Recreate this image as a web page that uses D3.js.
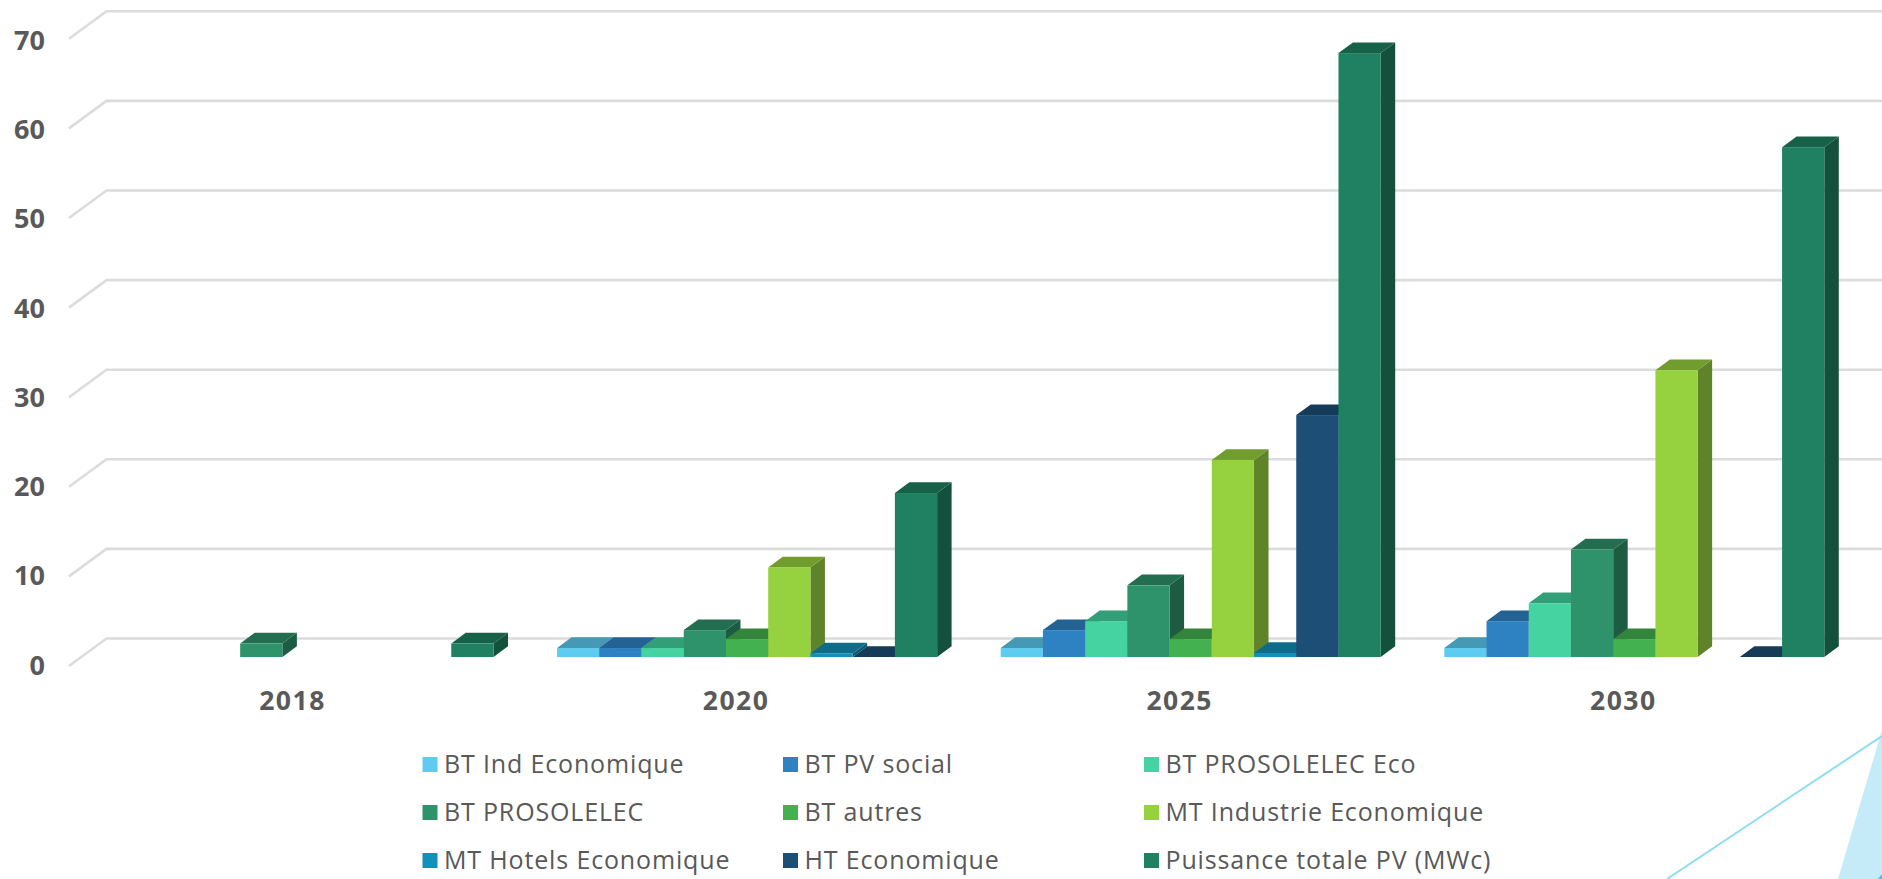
<!DOCTYPE html>
<html><head><meta charset="utf-8">
<script src="https://cdn.jsdelivr.net/npm/d3@7/dist/d3.min.js"></script>
<style>html,body{margin:0;padding:0;background:#fff;overflow:hidden}svg{display:block}text{font-family:"Open Sans",sans-serif;fill:#595959}</style>
</head><body><svg id="c" width="1882" height="879"></svg>
<script>
const years = ["2018", "2020", "2025", "2030"];
const series = ["BT Ind Economique","BT PV social","BT PROSOLELEC Eco","BT PROSOLELEC","BT autres","MT Industrie Economique","MT Hotels Economique","HT Economique","Puissance totale PV (MWc)"];
const colors = ["#5DCCF0","#2E82C2","#44D3A1","#2E926B","#43B14F","#96D13F","#1290B8","#1D4E76","#1F8161"];
const v2018 = [null,null,null,1.5,null,null,null,null,1.5];
const v2020 = [1,1,1,3,2,10,0.4,0,18.3];
const v2025 = [1,3,4,8,2,22,0.45,27,67.4];
const v2030 = [1,4,6,12,2,32,null,0,56.9];
const yearValues = [v2018,v2020,v2025,v2030];
const yTicks = [0,10,20,30,40,50,60,70];

const svg = d3.select("#c");
const baseY = 657, unit = 8.96;
const y = d3.scaleLinear().domain([0,70]).range([baseY, baseY-70*unit]);
const yLabel = d3.scaleLinear().domain([0,70]).range([665,40]);
const x0 = d3.scaleBand().domain(years).range([81.7,1856.1]);
const x1 = d3.scaleBand().domain(series).range([31.8,411.8]);
const barW = x1.bandwidth();
const dx = 14.5, dy = 10.7;          // bar depth
const wallDx = 37.5, wallFront = 9, wallBack = -18.5; // wall offsets from bar baseline
const wallX = 69;

// gridlines
const grid = svg.append("g").attr("fill","none").attr("stroke","#DCDCDC").attr("stroke-width",2.6);
grid.selectAll("path").data(yTicks).join("path")
  .attr("d",t=>`M${wallX},${y(t)+wallFront}L${wallX+wallDx},${y(t)+wallBack}H1882`);

// y labels
svg.append("g").selectAll("text").data(yTicks).join("text")
  .attr("x",45).attr("y",t=>yLabel(t)).attr("dy","0.36em").attr("text-anchor","end")
  .attr("font-size",27).attr("font-weight",700).text(d=>d);

// x labels
svg.append("g").selectAll("text").data(years).join("text")
  .attr("x",d=>x0(d)+x0.bandwidth()/2-11).attr("y",700.5).attr("dy","0.36em").attr("text-anchor","middle")
  .attr("font-size",26.5).attr("font-weight",700).attr("letter-spacing",1.5).text(d=>d);

// 3D bars
const shade=(c,k)=>d3.rgb(c).darker(k).formatHex();
years.forEach((yr,yi)=>{
  const g = svg.append("g");
  const rows = series.map((s,i)=>({s,i,v:yearValues[yi][i]})).filter(d=>d.v!==null);
  rows.forEach(d=>{
    const L=x0(yr)+x1(d.s), R=L+barW, T=y(d.v), B=y(0), c=colors[d.i];
    g.append("path").attr("fill",shade(c,1.3)).attr("d",`M${R},${T}L${R+dx},${T-dy}V${B-dy}L${R},${B}Z`);
    g.append("path").attr("fill",shade(c,0.8)).attr("d",`M${L},${T}L${L+dx},${T-dy}H${R+dx}L${R},${T}Z`);
    g.append("rect").attr("x",L).attr("y",T).attr("width",barW).attr("height",B-T).attr("fill",c);
  });
});

// legend
const colX = [422.5,783,1144], rowY=[757,805,853];
const lg = svg.append("g");
series.forEach((s,i)=>{
  const X=colX[i%3], Y=rowY[Math.floor(i/3)];
  lg.append("rect").attr("x",X).attr("y",Y).attr("width",15).attr("height",15).attr("fill",colors[i]);
  lg.append("text").attr("x",X+21.5).attr("y",Y+7).attr("dy","0.36em").attr("font-size",25).attr("letter-spacing",0.85).text(s);
});

// corner decoration
svg.append("path").attr("fill","#C5EBF8").attr("d","M1838,879L1882,730V879Z");
svg.append("path").attr("fill","#4DBCE5").attr("d","M1878,879L1882,874V879Z");
svg.append("path").attr("fill","none").attr("stroke","#8FDCF2").attr("stroke-width",2).attr("d","M1667,879L1882,736");
</script></body></html>
